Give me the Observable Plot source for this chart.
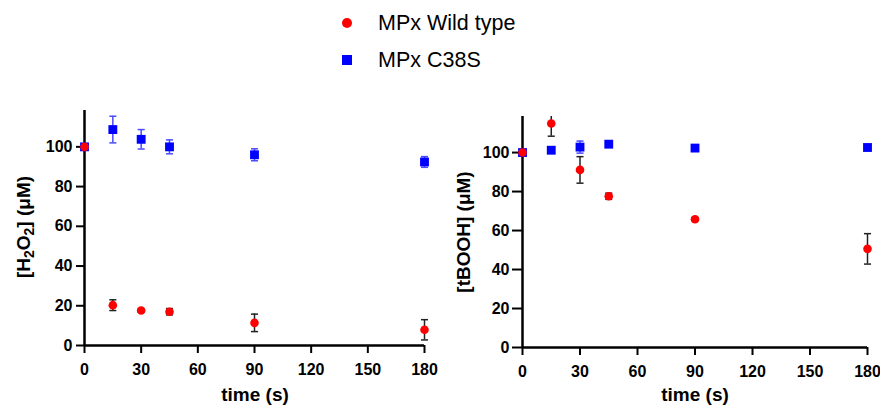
<!DOCTYPE html>
<html>
<head>
<meta charset="utf-8">
<script src="https://cdn.jsdelivr.net/npm/d3@7"></script>
<script src="https://cdn.jsdelivr.net/npm/@observablehq/plot@0.6"></script>
<style>
  html, body { margin: 0; padding: 0; background: #fff; }
  #root { position: relative; width: 880px; height: 406px; overflow: hidden; font-family: "Liberation Sans", Arial, sans-serif; }
  #legend { position: absolute; left: 0; top: 0; }
  .panel { position: absolute; top: 90px; }
</style>
</head>
<body>
<div id="root">
  <svg id="legend" width="880" height="90"></svg>
  <div class="panel" id="left" style="left:0px"></div>
  <div class="panel" id="right" style="left:440px"></div>
</div>
<script>
// ---- data ----
const times = [0, 15, 30, 45, 90, 180];
const xTicks = [0, 30, 60, 90, 120, 150, 180];
const yTicks = [0, 20, 40, 60, 80, 100];
const seriesNames = ["MPx Wild type", "MPx C38S"];

const h2o2Wt = [100, 20.3, 17.6, 17.0, 11.4, 7.9];
const h2o2WtSd = [0, 2.7, 0.8, 1.6, 4.4, 5.1];
const h2o2C38s = [100, 108.7, 103.8, 100.0, 96.0, 92.4];
const h2o2C38sSd = [0, 6.7, 4.9, 3.5, 3.0, 2.7];

const tboohWt = [100, 114.9, 91.1, 77.6, 65.8, 50.6];
const tboohWtSd = [0, 6.5, 6.8, 1.6, 0.8, 7.8];
const tboohC38s = [100, 101.2, 102.8, 104.3, 102.3, 102.6];
const tboohC38sSd = [0, 0.9, 3.1, 1.0, 1.0, 0.8];

// ---- helpers ----
const RED = "#ff0000", BLUE = "#0000ff";
const FONT = "'Liberation Sans', Arial, sans-serif";
const capSymbol = {
  draw(ctx, size) {
    const w = Math.sqrt(size) / 2;
    ctx.moveTo(-w, 0);
    ctx.lineTo(w, 0);
  }
};

function rows(vals, sds) {
  return times.map((t, i) => ({t, v: vals[i], sd: sds[i]}));
}

function errorMarks(data, color, ymax) {
  const e = data.filter(d => d.sd > 0);
  return [
    Plot.ruleX(e, {x: "t", y1: d => d.v - d.sd, y2: d => Math.min(d.v + d.sd, ymax), stroke: color, strokeWidth: 1.5}),
    Plot.dot(e, {x: "t", y: d => d.v - d.sd, symbol: capSymbol, r: 4, stroke: color, strokeWidth: 1.5, fill: "none"}),
    Plot.dot(e.filter(d => d.v + d.sd <= ymax), {x: "t", y: d => d.v + d.sd, symbol: capSymbol, r: 4, stroke: color, strokeWidth: 1.5, fill: "none"})
  ];
}

function panel(opts) {
  const wt = rows(opts.wt, opts.wtSd);
  const mut = rows(opts.mut, opts.mutSd);
  const ymax = opts.ymax;
  const svg = Plot.plot({
    width: 440,
    height: 316,
    marginLeft: opts.ml,
    marginRight: opts.mr,
    marginTop: opts.mt,
    marginBottom: opts.mb,
    style: {fontFamily: FONT, background: "white", color: "black", overflow: "visible"},
    x: {domain: [0, 180], label: null},
    y: {domain: [0, ymax], label: null},
    marks: [
      Plot.axisX({ticks: xTicks, tickSize: 8, tickPadding: 10, strokeWidth: 2, fontSize: 16, fontWeight: "bold", label: null}),
      Plot.axisY({ticks: yTicks, tickSize: opts.ytick, tickPadding: opts.ypad, strokeWidth: 2, fontSize: 16, fontWeight: "bold", label: null}),
      Plot.ruleY([0], {strokeWidth: 2.5, stroke: "black"}),
      Plot.ruleX([0], {strokeWidth: 2.5, stroke: "black"}),
      ...errorMarks(mut, "#4b4bff", ymax),
      Plot.dot(mut, {x: "t", y: "v", symbol: "square", r: 5, fill: BLUE}),
      ...errorMarks(wt, "#222222", ymax),
      Plot.dot(wt, {x: "t", y: "v", symbol: "circle", r: 4.3, fill: RED})
    ]
  });
  const s = d3.select(svg);
  // y label
  const yl = s.append("text")
    .attr("transform", `translate(${opts.ylx},${opts.yly}) rotate(-90)`)
    .attr("text-anchor", "middle")
    .attr("font-family", FONT).attr("font-size", 19).attr("font-weight", "bold")
    .attr("fill", "black");
  opts.ylabel(yl);
  // x label
  s.append("text")
    .attr("x", opts.xlx).attr("y", 311)
    .attr("text-anchor", "middle")
    .attr("font-family", FONT).attr("font-size", 19).attr("font-weight", "bold")
    .attr("fill", "black")
    .text("time (s)");
  return svg;
}

document.getElementById("left").appendChild(panel({
  wt: h2o2Wt, wtSd: h2o2WtSd, mut: h2o2C38s, mutSd: h2o2C38sSd,
  ymax: 118.3, ml: 84, mr: 16, mt: 20, mb: 61, ytick: 8, ypad: 4,
  ylx: 30, yly: 137, xlx: 255,
  ylabel: t => {
    t.append("tspan").text("[H");
    t.append("tspan").attr("font-size", 14).attr("dy", 4).text("2");
    t.append("tspan").attr("dy", -4).text("O");
    t.append("tspan").attr("font-size", 14).attr("dy", 4).text("2");
    t.append("tspan").attr("dy", -4).text("] (μM)");
  }
}));

document.getElementById("right").appendChild(panel({
  wt: tboohWt, wtSd: tboohWtSd, mut: tboohC38s, mutSd: tboohC38sSd,
  ymax: 118.5, ml: 82, mr: 13, mt: 26, mb: 59, ytick: 10, ypad: 3,
  ylx: 30, yly: 142, xlx: 255,
  ylabel: t => { t.text("[tBOOH] (μM)"); }
}));

// ---- legend ----
const lg = d3.select("#legend");
const lx = 347;
lg.append("circle").attr("cx", lx).attr("cy", 23).attr("r", 5).attr("fill", RED);
lg.append("rect").attr("x", lx - 5).attr("y", 55).attr("width", 10).attr("height", 10).attr("fill", BLUE);
lg.append("text").attr("x", 378).attr("y", 30).attr("font-family", FONT).attr("font-size", 21.5).attr("fill", "black").text(seriesNames[0]);
lg.append("text").attr("x", 378).attr("y", 66.5).attr("font-family", FONT).attr("font-size", 21.5).attr("fill", "black").text(seriesNames[1]);
</script>
</body>
</html>
